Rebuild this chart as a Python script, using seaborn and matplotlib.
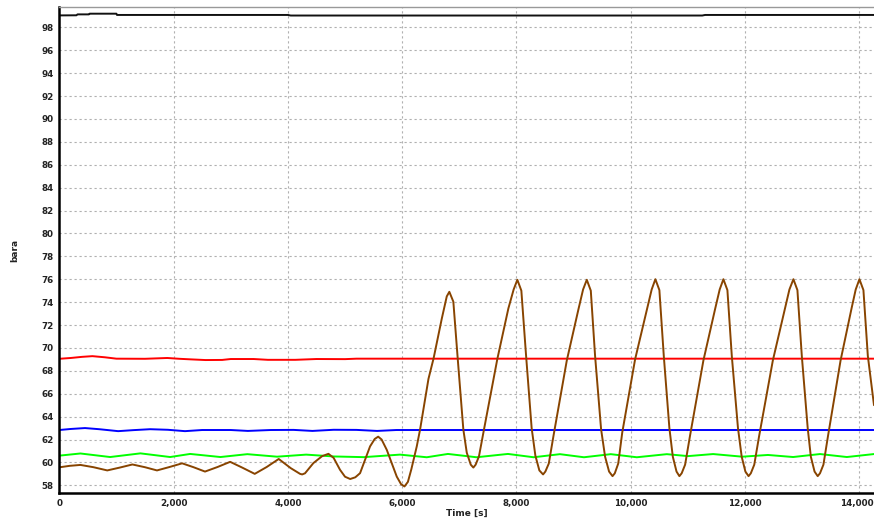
import matplotlib
matplotlib.use("Agg")
import matplotlib.pyplot as plt
import seaborn as sns
import pandas as pd
from matplotlib.ticker import FuncFormatter
from matplotlib.transforms import ScaledTranslation

# ---- data ----
black_t = [0, 300, 320, 520, 530, 1000, 1010, 4000, 4050, 11250, 11300, 14255]
black_v = [99.04, 99.05, 99.13, 99.13, 99.19, 99.19, 99.08, 99.08, 99.03, 99.03, 99.08, 99.08]

red_t = [0, 200, 400, 580, 800, 1000, 1500, 1890, 2100, 2300, 2560, 2850, 3000, 3400,
         3650, 4130, 4500, 5000, 5200, 14255]
red_v = [69.05, 69.12, 69.22, 69.28, 69.18, 69.06, 69.05, 69.12, 69.05, 69.0, 68.94,
         68.95, 69.03, 69.03, 68.96, 68.96, 69.03, 69.02, 69.06, 69.06]

blue_t = [0, 200, 450, 700, 1030, 1300, 1590, 1900, 2200, 2500, 3000, 3300, 3700, 4100,
          4430, 4800, 5200, 5560, 5900, 14255]
blue_v = [62.83, 62.92, 63.0, 62.9, 62.73, 62.82, 62.9, 62.85, 62.73, 62.83, 62.83, 62.75,
          62.83, 62.84, 62.75, 62.85, 62.84, 62.75, 62.83, 62.83]

green_t = [0, 370, 890, 1420, 1940, 2290, 2820, 3290, 3810, 4320, 4800, 5330, 5960, 6430,
           6800, 7300, 7850, 8300, 8760, 9180, 9650, 10105, 10630, 11000, 11440, 11950,
           12400, 12840, 13310, 13780, 14255]
green_v = [60.59, 60.78, 60.47, 60.79, 60.47, 60.74, 60.47, 60.72, 60.5, 60.68, 60.52,
           60.46, 60.68, 60.45, 60.74, 60.45, 60.74, 60.45, 60.72, 60.45, 60.72, 60.45,
           60.72, 60.55, 60.73, 60.5, 60.65, 60.47, 60.73, 60.47, 60.73]

brown_t = [0, 180, 370, 600, 840, 1060, 1280, 1500, 1710, 1930, 2150, 2350, 2550, 2770,
           2990, 3200, 3420, 3630, 3840, 4050, 4213, 4250, 4300, 4446, 4600, 4710, 4800,
           4913, 5000, 5090, 5180, 5263, 5438, 5520, 5580, 5640, 5730, 5905, 5980, 6040,
           6100, 6160, 6255, 6313, 6460, 6550, 6693, 6780, 6825,
           6895, 6972, 7070, 7130, 7200, 7245,
           7285, 7343, 7431, 7665, 7858, 7950, 8015,
           8085, 8165, 8265, 8330, 8400, 8465,
           8505, 8565, 8650, 8880, 9085, 9165, 9230,
           9300, 9375, 9480, 9550, 9620, 9680,
           9720, 9780, 9850, 10075, 10285, 10365, 10430,
           10500, 10577, 10675, 10735, 10800, 10850,
           10890, 10950, 11035, 11270, 11475, 11555, 11620,
           11690, 11767, 11875, 11940, 12005, 12060,
           12100, 12160, 12245, 12485, 12695, 12775, 12845,
           12915, 12992, 13095, 13150, 13215, 13270,
           13310, 13370, 13450, 13670, 13860, 13935, 14000,
           14070, 14147, 14255]
brown_v = [59.57, 59.7, 59.78, 59.58, 59.3, 59.55, 59.82, 59.58, 59.3, 59.6, 59.92, 59.58,
           59.2, 59.6, 60.05, 59.55, 59.0, 59.6, 60.3, 59.5, 59.0, 58.95, 59.05, 59.94,
           60.55, 60.75, 60.4, 59.35, 58.75, 58.55, 58.7, 59.06, 61.4, 62.05, 62.25, 62.0,
           61.1, 58.76, 58.1, 57.9, 58.3, 59.4, 61.4, 62.87, 67.3, 69.1, 72.56, 74.5, 74.9,
           74.04, 69.04, 62.87, 60.85, 59.8, 59.55,
           59.8, 60.52, 62.87, 69.04, 73.45, 75.1, 75.95,
           75.0, 69.5, 63.0, 60.6, 59.3, 58.95,
           59.2, 59.9, 62.4, 68.9, 73.4, 75.1, 75.95,
           75.0, 69.3, 62.9, 60.5, 59.2, 58.8,
           59.05, 59.9, 62.6, 69.0, 73.4, 75.1, 76.0,
           75.05, 69.3, 63.0, 60.5, 59.2, 58.8,
           59.05, 59.8, 62.3, 68.9, 73.4, 75.1, 76.0,
           75.05, 69.3, 63.0, 60.5, 59.2, 58.8,
           59.05, 59.8, 62.3, 68.9, 73.4, 75.1, 76.0,
           75.05, 69.3, 63.0, 60.5, 59.2, 58.8,
           59.05, 59.8, 62.3, 68.9, 73.4, 75.1, 76.0,
           75.05, 69.3, 65.0]

x_ticks = [0, 2000, 4000, 6000, 8000, 10000, 12000, 14000]
y_ticks = list(range(58, 100, 2))

series = [
    ("black", black_t, black_v, "#111111"),
    ("red", red_t, red_v, "#ff0000"),
    ("blue", blue_t, blue_v, "#0000ff"),
    ("green", green_t, green_v, "#00ff00"),
    ("brown", brown_t, brown_v, "#884400"),
]

sns.set_style("white")
plt.rcParams["font.family"] = ["DejaVu Sans"]

fig = plt.figure(figsize=(8.74, 5.2), dpi=100)
ax = fig.add_axes([0.0678, 0.0513, 0.9322, 0.9358])

for name, t, v, c in series:
    df = pd.DataFrame({"t": t, "v": v})
    sns.lineplot(data=df, x="t", y="v", color=c, linewidth=1.4, ax=ax,
                 estimator=None, sort=False, legend=False)

ax.set_xlim(0, 14255)
ax.set_ylim(57.3, 99.8)
ax.set_xticks(x_ticks)
ax.set_yticks(y_ticks)
ax.xaxis.set_major_formatter(FuncFormatter(lambda x, p: f"{int(x):,}"))
ax.grid(True, color="#b0b0b0", linestyle=(0, (2, 2.5)), linewidth=0.8)
ax.set_axisbelow(True)
ax.tick_params(axis="both", length=0, labelsize=6.3, colors="#222222", pad=4)
for lab in ax.get_xticklabels() + ax.get_yticklabels():
    lab.set_fontweight("bold")
# keep the last x tick label fully inside the figure
last = ax.get_xticklabels()[-1]
last.set_transform(last.get_transform() + ScaledTranslation(-3 / 100, 0, fig.dpi_scale_trans))

ax.set_xlabel("Time [s]", fontsize=6.5, fontweight="bold", color="#222222", labelpad=1)
ax.set_ylabel("bara", fontsize=6.5, fontweight="bold", color="#222222", labelpad=16)

for s in ["left", "bottom"]:
    ax.spines[s].set_color("black")
    ax.spines[s].set_linewidth(1.8)
ax.spines["top"].set_color("#999999")
ax.spines["top"].set_linewidth(1.0)
ax.spines["right"].set_visible(False)

fig.savefig("out.png", dpi=100)
